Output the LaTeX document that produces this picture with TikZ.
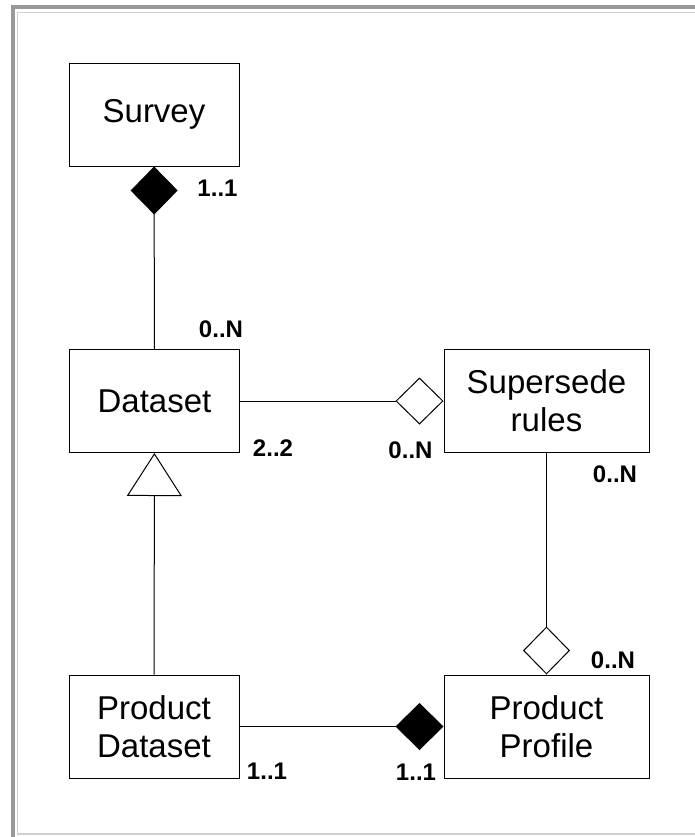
\documentclass[tikz,border=0pt]{standalone}
\usepackage{fontspec}
\setmainfont{Liberation Sans}
\usetikzlibrary{arrows.meta}
\definecolor{framegray}{RGB}{153,153,153}
\definecolor{framelight}{RGB}{208,208,208}

\begin{document}
\begin{tikzpicture}[x=0.5pt,y=-0.5pt]
	 \tikzstyle{entity}=[draw,rectangle,line width=0.5pt,align=center,font=\fontsize{16.5}{19}\selectfont,minimum width=85pt,minimum height=51.5pt,inner sep=0pt]
	 \tikzstyle{wideentity}=[entity,minimum width=102.5pt]
	 \tikzstyle{mult}=[font=\fontsize{12}{13}\selectfont\bfseries,inner sep=0pt]
	 \tikzstyle{edge}=[draw,line width=0.5pt,black]
	 \tikzstyle{composition}=[edge,-{Diamond[length=24pt,width=23.5pt,fill=black]}]
	 \tikzstyle{aggregation}=[edge,-{Diamond[open,length=24pt,width=23.5pt]}]
	 \tikzstyle{generalization}=[edge,-{Triangle[open,length=21.5pt,width=27.5pt]}]
	 % frame
	 \useasboundingbox (0,0) rectangle (695,837);
	 \fill[framegray] (11,5) rectangle (695,9);
	 \fill[framegray] (11,5) rectangle (15,837);
	 \draw[framelight,line width=0.6pt] (695,12.5) -- (17.5,12.5) -- (17.5,834) -- (695,834);
	 % classes
	 \node[entity] (survey) at (154,114.5) {Survey};
	 \node[entity] (dataset) at (154.5,401) {Dataset};
	 \node[wideentity] (supersede) at (546.5,401) {Supersede\\rules};
	 \node[entity] (pdataset) at (154,726.5) {Product\\Dataset};
	 \node[wideentity] (pprofile) at (546.5,726.5) {Product\\Profile};
	 % links
	 \draw[composition] (dataset) -- (survey);
	 \draw[aggregation] (dataset) -- (supersede);
	 \draw[generalization] (pdataset) -- (dataset);
	 \draw[aggregation] (supersede) -- (pprofile);
	 \draw[composition] (pdataset) -- (pprofile);
	 % multiplicities
	 \node[mult] (m1) at (217.5,188.5) {1..1};
	 \node[mult] (m2) at (221,329.5) {0..N};
	 \node[mult] (m3) at (273,448.5) {2..2};
	 \node[mult] (m4) at (410.5,450) {0..N};
	 \node[mult] (m5) at (615,474) {0..N};
	 \node[mult] (m6) at (613,660) {0..N};
	 \node[mult] (m7) at (267,771) {1..1};
	 \node[mult] (m8) at (416,772) {1..1};
\end{tikzpicture}
\end{document}
